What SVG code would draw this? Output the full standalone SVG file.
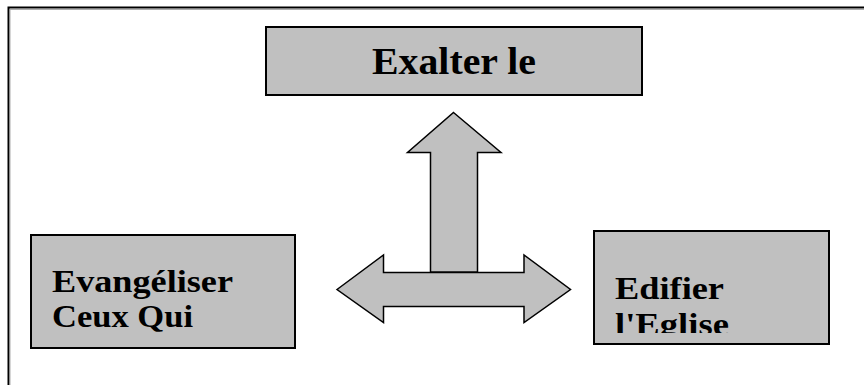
<svg xmlns="http://www.w3.org/2000/svg" width="864" height="385" viewBox="0 0 864 385">
  <style>
    .box { fill: #c0c0c0; stroke: #000; stroke-width: 2; }
    .arrow { fill: #c0c0c0; stroke: #000; stroke-width: 1.5; stroke-linejoin: miter; }
    .lbl { font-family: "Liberation Serif", "Times New Roman", serif; font-weight: bold; fill: #000; }
  </style>
  <defs>
    <clipPath id="clipEdifier">
      <rect x="595" y="231" width="234" height="102"/>
    </clipPath>
  </defs>
  <rect width="864" height="385" fill="#fff"/>
  <g id="frame">
    <path d="M8.5,386 V7.5 H866" fill="none" stroke="#000" stroke-width="2"/>
    <path d="M10,386 V9.5 H866" fill="none" stroke="#999" stroke-width="0.8"/>
  </g>
  <g id="connectors">
    <path class="arrow" d="M337,289.5 L383.5,255 V272.5 H524 V255 L570.5,289.5 L524,322.5 V306.5 H383.5 V322.5 Z"/>
    <path class="arrow" d="M453.5,112.5 L501,152.5 H477.5 V272 H430.5 V152.5 H407.5 Z"/>
  </g>
  <g id="node-exalter">
    <rect class="box" x="266" y="27" width="376" height="68"/>
    <text class="lbl" x="372" y="73.5" font-size="37" textLength="164" lengthAdjust="spacingAndGlyphs">Exalter le</text>
  </g>
  <g id="node-evangeliser">
    <rect class="box" x="31" y="235" width="264" height="113"/>
    <text class="lbl" x="52" y="291.5" font-size="32" textLength="181" lengthAdjust="spacingAndGlyphs">Evangéliser</text>
    <text class="lbl" x="52" y="327" font-size="32" textLength="141" lengthAdjust="spacingAndGlyphs">Ceux Qui</text>
  </g>
  <g id="node-edifier">
    <rect class="box" x="594" y="231" width="235" height="113"/>
    <g clip-path="url(#clipEdifier)">
      <text class="lbl" x="615" y="299" font-size="32" textLength="109" lengthAdjust="spacingAndGlyphs">Edifier</text>
      <text class="lbl" x="615" y="334.5" font-size="32" textLength="114" lengthAdjust="spacingAndGlyphs">l'Eglise</text>
    </g>
  </g>
</svg>
